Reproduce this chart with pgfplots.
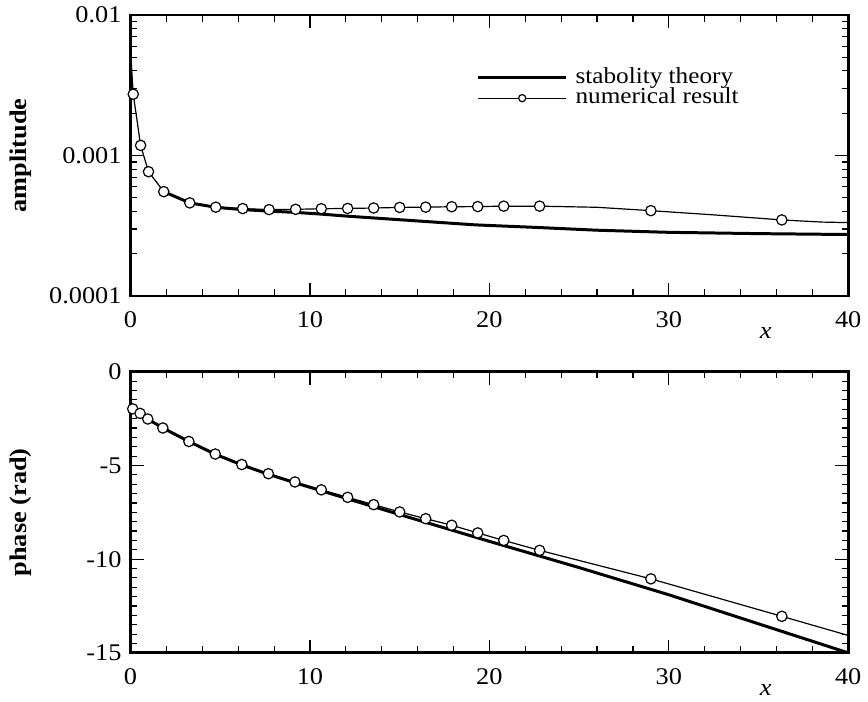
\documentclass[border=0pt]{standalone}
\usepackage{pgfplots}
\pgfplotsset{compat=1.18}
\usepackage{fontspec}
\setmainfont{Liberation Serif}[FakeStretch=1.1]

\pgfplotsset{
  panel/.style={
    scale only axis, width=360pt, height=141pt,
    xmin=0, xmax=40,
    xtick={0,10,20,30,40}, xticklabels={0,10,20,30,40},
    minor x tick num=4,
    tick align=inside,
    major tick length=6.5pt, minor tick length=3.3pt,
    axis line style={line width=1.4pt},
    every tick/.style={black, line width=0.6pt},
    tick label style={font=\fontsize{12}{14}\selectfont},
    xticklabel style={yshift=-4.5pt},
    yticklabel style={xshift=-1pt},
    label style={font=\fontsize{12}{14}\selectfont},
    xlabel={\textit{x}},
    xlabel style={at={(axis description cs:0.885,0)}, anchor=center, yshift=-18.5pt},
    ylabel style={at={(axis description cs:-0.153,0.5)}, anchor=center, rotate=0},
  },
  theory/.style={black, line width=1.5pt, no markers},
  numline/.style={black, line width=0.6pt, no markers},
  nummarks/.style={only marks, mark=*, mark size=2.6pt,
    mark options={fill=white, draw=black, line width=0.6pt}},
}

\begin{document}
\begin{tikzpicture}
\begin{axis}[panel, name=top,
  ymode=log, ymin=1e-4, ymax=1e-2,
  ytick={1e-4,1e-3,1e-2}, yticklabels={0.0001,0.001,0.01},
  minor ytick={2e-4,3e-4,4e-4,5e-4,6e-4,7e-4,8e-4,9e-4,2e-3,3e-3,4e-3,5e-3,6e-3,7e-3,8e-3,9e-3},
  ylabel={\bfseries amplitude},
  legend style={at={(axis description cs:0.482,0.815)}, anchor=north west,
    draw=none, fill=none, inner sep=0pt,
    font=\fontsize{11.5}{13}\selectfont,
    nodes={inner sep=0pt, text height=8pt, text depth=2.3pt},
    row sep=0pt, column sep=4pt},
  legend cell align=left,
  legend image code/.code={\draw[mark repeat=2, mark phase=2, #1]
    plot coordinates {(0pt,0pt) (22pt,0pt) (44pt,0pt)};},
]
% stability theory
\addplot[theory, forget plot] coordinates {
(1.85,0.000553) (3.3,0.00046) (4.75,0.000428) (6.25,0.000412) (7.72,0.000402)
(9.3,0.000393) (10.6,0.000383) (12.1,0.00037) (15.3,0.000347) (19.2,0.000321)
(22.8,0.000307) (26,0.000294) (30,0.000284) (35,0.000278) (40,0.000274)
};
% numerical result
\addplot[numline, forget plot] coordinates {
(0,0.0055) (0.15,0.00273) (0.56,0.00118) (1.0,0.000767) (1.85,0.000553)
(3.3,0.00046) (4.75,0.000429) (6.25,0.000419) (7.72,0.000412) (9.2,0.000414)
(10.63,0.000418) (12.1,0.00042) (13.55,0.000423) (15.0,0.000427) (16.45,0.000429)
(17.9,0.000432) (19.35,0.000433) (20.8,0.000436) (22.8,0.000436) (26,0.000428)
(29.0,0.000405) (32.5,0.000378) (36.3,0.000348) (38.5,0.000336) (40,0.000333)
};
\addplot[nummarks, forget plot] coordinates {
(0.15,0.00273) (0.56,0.00118) (1.0,0.000767) (1.85,0.000553) (3.3,0.00046)
(4.75,0.000429) (6.25,0.000419) (7.72,0.000412) (9.2,0.000414) (10.63,0.000418)
(12.1,0.00042) (13.55,0.000423) (15.0,0.000427) (16.45,0.000429) (17.9,0.000432)
(19.35,0.000433) (20.8,0.000436) (22.8,0.000436) (29.0,0.000405) (36.3,0.000348)
};
\addlegendimage{black, line width=1.5pt}
\addlegendentry{stabolity theory}
\addlegendimage{black, line width=0.6pt, mark=*, mark size=1.8pt,
  mark options={fill=white, draw=black, line width=0.6pt}}
\addlegendentry{numerical result}
\end{axis}

\begin{axis}[panel, at={(top.south west)}, anchor=north west, yshift=-38pt,
  ymin=-15, ymax=0,
  ytick={-15,-10,-5,0}, yticklabels={-15,-10,-5,0},
  minor y tick num=9,
  ylabel={\bfseries phase (rad)},
]
\addplot[theory] coordinates {
(0.12,-1.98) (0.53,-2.22) (0.96,-2.52) (1.8,-3.0) (3.25,-3.72) (4.72,-4.40)
(6.2,-4.97) (7.68,-5.47) (9.16,-5.92) (10.63,-6.35) (12.1,-6.78) (15,-7.62)
(20,-9.05) (25,-10.45) (30,-11.9) (35,-13.45) (40,-15.0)
};
\addplot[numline] coordinates {
(0.12,-1.98) (0.53,-2.22) (0.96,-2.52) (1.8,-3.0) (3.25,-3.72) (4.72,-4.39)
(6.2,-4.95) (7.68,-5.44) (9.16,-5.88) (10.63,-6.3) (12.1,-6.7) (13.55,-7.09)
(15.0,-7.48) (16.45,-7.84) (17.9,-8.19) (19.35,-8.6) (20.8,-9.0) (22.8,-9.53)
(29.0,-11.05) (36.3,-13.05) (40,-14.07)
};
\addplot[nummarks] coordinates {
(0.12,-1.98) (0.53,-2.22) (0.96,-2.52) (1.8,-3.0) (3.25,-3.72) (4.72,-4.39)
(6.2,-4.95) (7.68,-5.44) (9.16,-5.88) (10.63,-6.3) (12.1,-6.7) (13.55,-7.09)
(15.0,-7.48) (16.45,-7.84) (17.9,-8.19) (19.35,-8.6) (20.8,-9.0) (22.8,-9.53)
(29.0,-11.05) (36.3,-13.05)
};
\end{axis}
\path[use as bounding box] (-65.5pt,-202pt) rectangle (368.5pt,148.5pt);
\end{tikzpicture}
\end{document}
